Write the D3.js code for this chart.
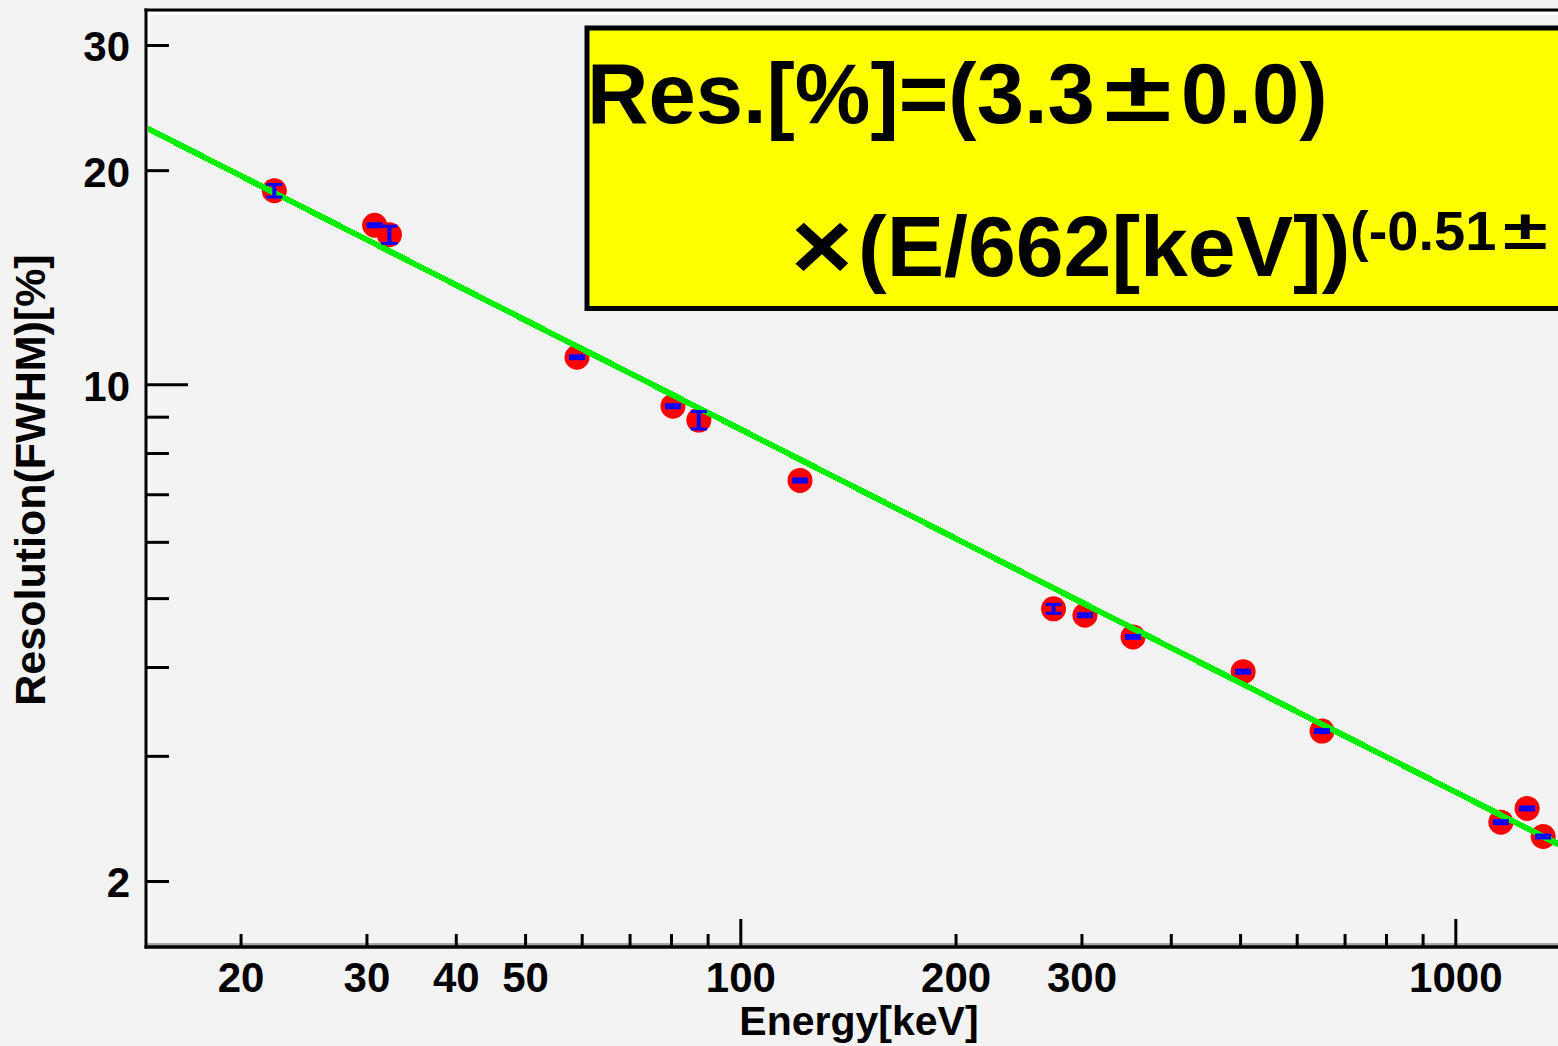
<!DOCTYPE html>
<html>
<head>
<meta charset="utf-8">
<script src="https://cdn.jsdelivr.net/npm/d3@7"></script>
<style>
  html, body { margin: 0; padding: 0; background: #f3f3f3; }
  svg { display: block; }
  text { font-family: "Liberation Sans", Arial, Helvetica, sans-serif; font-weight: bold; }
</style>
</head>
<body>
<svg id="chart" width="1558" height="1046"></svg>
<script>
// ---- data ----
const energy     = [22.3, 30.8, 32.3, 59.1, 80.5, 87.5, 121.2, 274.2, 303.4, 354.2, 505, 651, 1158, 1260, 1327];
const resolution = [18.71, 16.73, 16.23, 10.91, 9.31, 8.90, 7.32, 4.83, 4.73, 4.41, 3.94, 3.25, 2.42, 2.53, 2.31];
const resErr     = [0.38, 0.08, 0.45, 0.05, 0.045, 0.25, 0.035, 0.07, 0.023, 0.021, 0.019, 0.016, 0.012, 0.012, 0.011];
const fitEnergy  = [14.75, 1500];
const fitRes     = [22.95, 2.17];

const xDomain = [14.75, 1500];
const yDomain = [1.615, 33.6];
const xMinorTicks = [20, 30, 40, 50, 60, 70, 80, 90, 200, 300, 400, 500, 600, 700, 800, 900];
const xMajorTicks = [100, 1000];
const xTickLabels = [20, 30, 40, 50, 100, 200, 300, 1000];
const yMinorTicks = [2, 3, 4, 5, 6, 7, 8, 9, 20, 30];
const yMajorTicks = [10];
const yTickLabels = [2, 10, 20, 30];

const xTitle = "Energy[keV]";
const yTitle = "Resolution(FWHM)[%]";
const boxLine1a = "Res.[%]=(3.3";
const boxLine1b = "0.0)";
const boxLine2 = "(E/662[keV])";
const boxSup = "(-0.51";

// ---- layout ----
const W = 1558, H = 1046;
const L = 146, T = 10, B = 947;
const decadeX = 715;
const svg = d3.select("#chart");

const x = d3.scaleLog().domain(xDomain)
  .range([L, L + decadeX * Math.log10(xDomain[1] / xDomain[0])]);
const y = d3.scaleLog().domain(yDomain).range([B, T]);

svg.append("rect").attr("width", W).attr("height", H).attr("fill", "#f3f3f3");

// frame bevel
svg.append("line").attr("x1", L + 3).attr("x2", W).attr("y1", T + 3.3).attr("y2", T + 3.3)
  .attr("stroke", "#ffffff").attr("stroke-width", 3);
svg.append("line").attr("x1", L + 2.8).attr("x2", L + 2.8).attr("y1", T + 2).attr("y2", B - 2)
  .attr("stroke", "#ffffff").attr("stroke-width", 3);
svg.append("line").attr("x1", L + 1).attr("x2", W).attr("y1", B - 2.6).attr("y2", B - 2.6)
  .attr("stroke", "#aaaaaa").attr("stroke-width", 3);

// clip
svg.append("clipPath").attr("id", "plot").append("rect")
  .attr("x", L + 2).attr("y", T + 1).attr("width", W - L).attr("height", B - T - 2);

const plot = svg.append("g").attr("clip-path", "url(#plot)");

// markers
plot.selectAll("circle.pt").data(energy).join("circle")
  .attr("class", "pt")
  .attr("cx", d => x(d))
  .attr("cy", (d, i) => y(resolution[i]))
  .attr("r", 12.5)
  .attr("fill", "#ff0000");

// fit line
const line = d3.line().x(d => x(d[0])).y(d => y(d[1]));
plot.append("path")
  .datum(fitEnergy.map((e, i) => [e, fitRes[i]]))
  .attr("d", line)
  .attr("fill", "none")
  .attr("stroke", "#00ee00")
  .attr("stroke-width", 6)
  .attr("shape-rendering", "crispEdges");

// error bars
const eb = plot.selectAll("g.eb").data(energy).join("g").attr("class", "eb");
eb.append("line")
  .attr("x1", d => x(d)).attr("x2", d => x(d))
  .attr("y1", (d, i) => y(resolution[i] + resErr[i]))
  .attr("y2", (d, i) => y(resolution[i] - resErr[i]))
  .attr("stroke", "#0000ff").attr("stroke-width", 4);
[1, -1].forEach(s => {
  eb.append("line")
    .attr("x1", d => x(d) - 8).attr("x2", d => x(d) + 8)
    .attr("y1", (d, i) => y(resolution[i] + s * resErr[i]))
    .attr("y2", (d, i) => y(resolution[i] + s * resErr[i]))
    .attr("stroke", "#0000ff").attr("stroke-width", 3);
});

// frame lines
svg.append("line").attr("x1", L).attr("x2", L).attr("y1", T - 1.5).attr("y2", B + 1.5)
  .attr("stroke", "#000").attr("stroke-width", 3);
svg.append("line").attr("x1", L - 1.5).attr("x2", W).attr("y1", T).attr("y2", T)
  .attr("stroke", "#000").attr("stroke-width", 3);
svg.append("line").attr("x1", L - 1.5).attr("x2", W).attr("y1", B).attr("y2", B)
  .attr("stroke", "#000").attr("stroke-width", 3.3);

function styleTicks(g) {
  g.select(".domain").remove();
  g.selectAll(".tick line").attr("stroke", "#000").attr("stroke-width", 3);
}

// x axis ticks
svg.append("g").attr("transform", `translate(0,${B})`)
  .call(d3.axisBottom(x).tickValues(xMinorTicks).tickSize(-13).tickSizeOuter(0).tickFormat(""))
  .call(styleTicks);
svg.append("g").attr("transform", `translate(0,${B})`)
  .call(d3.axisBottom(x).tickValues(xMajorTicks).tickSize(-28).tickSizeOuter(0).tickFormat(""))
  .call(styleTicks);
const xl = svg.append("g").attr("transform", `translate(0,${B})`)
  .call(d3.axisBottom(x).tickValues(xTickLabels).tickSize(0).tickSizeOuter(0).tickPadding(15).tickFormat(d3.format("d")));
xl.select(".domain").remove();
xl.selectAll(".tick line").remove();
xl.attr("font-size", null).attr("font-family", null);
xl.selectAll("text").attr("font-size", 42).attr("fill", "#000");

// y axis ticks
svg.append("g").attr("transform", `translate(${L},0)`)
  .call(d3.axisLeft(y).tickValues(yMinorTicks).tickSize(-23).tickSizeOuter(0).tickFormat(""))
  .call(styleTicks);
svg.append("g").attr("transform", `translate(${L},0)`)
  .call(d3.axisLeft(y).tickValues(yMajorTicks).tickSize(-42).tickSizeOuter(0).tickFormat(""))
  .call(styleTicks);
const yl = svg.append("g").attr("transform", `translate(${L},0)`)
  .call(d3.axisLeft(y).tickValues(yTickLabels).tickSize(0).tickSizeOuter(0).tickPadding(16).tickFormat(d3.format("d")));
yl.select(".domain").remove();
yl.selectAll(".tick line").remove();
yl.attr("font-size", null).attr("font-family", null);
yl.selectAll("text").attr("font-size", 42).attr("fill", "#000").attr("dy", "0.38em");

// axis titles
svg.append("text").attr("x", 859).attr("y", 1035).attr("text-anchor", "middle")
  .attr("font-size", 41).text(xTitle);
svg.append("text").attr("transform", "translate(45,480) rotate(-90)").attr("text-anchor", "middle")
  .attr("font-size", 43).text(yTitle);

// fit box
svg.append("rect").attr("x", 587).attr("y", 28).attr("width", 1100).attr("height", 280.5)
  .attr("fill", "#ffff00").attr("stroke", "#000").attr("stroke-width", 5);
svg.append("text").attr("x", 587).attr("y", 123).attr("font-size", 85).text(boxLine1a);
svg.append("text").attr("transform", "translate(1104,121) scale(1.45,1)").attr("font-size", 85).text("±");
svg.append("text").attr("x", 1181).attr("y", 123).attr("font-size", 85).text(boxLine1b);
svg.append("text").attr("transform", "translate(791,279) scale(1.1,1)").attr("font-size", 96).text("×");
svg.append("text").attr("x", 858).attr("y", 276).attr("font-size", 86).text(boxLine2);
svg.append("text").attr("x", 1350).attr("y", 250).attr("font-size", 56).text(boxSup);
svg.append("text").attr("transform", "translate(1503,249) scale(1.45,1)").attr("font-size", 56).text("±");
</script>
</body>
</html>
